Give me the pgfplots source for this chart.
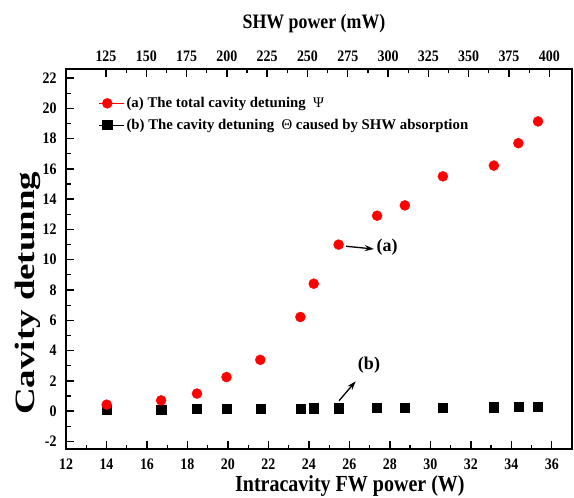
\documentclass[border=0pt]{standalone}
\usepackage{fontspec}
\setmainfont{Liberation Serif}
\newfontfamily\nf[FakeStretch=0.87]{Liberation Serif}
\newfontfamily\yf[FakeStretch=1.32]{Liberation Serif}
\usepackage{pgfplots}
\pgfplotsset{compat=1.18}
\usetikzlibrary{arrows.meta}
\begin{document}
\begin{tikzpicture}[font=\rmfamily\bfseries]
\begin{axis}[name=main, scale only axis, width=506pt, height=380pt,
  xmin=12, xmax=37, ymin=-2.5, ymax=22.6,
  xtick={12,14,...,36}, ytick={-2,0,...,22},
  minor x tick num=1, minor y tick num=1,
  xtick pos=left, ytick pos=left,
  tick align=inside,
  major tick length=8pt, minor tick length=4.5pt,
  axis line style={line width=1.6pt},
  major tick style={line width=1.4pt, black},
  minor tick style={line width=1.2pt, black},
  /pgf/number format/assume math mode=true,
  ticklabel style={font=\fontsize{16}{16}\selectfont\nf\bfseries},
  xticklabel style={yshift=-6pt},
  yticklabel style={xshift=-6pt},
  xlabel={Intracavity FW power (W)}, ylabel={Cavity detunng},
  xlabel style={at={(rel axis cs:0.561,0)}, anchor=base, yshift=-42pt, inner sep=0pt,
    font=\fontsize{23}{23}\selectfont\nf\bfseries},
  ylabel style={at={(rel axis cs:-0.05,0.41)}, anchor=south, inner sep=0pt,
    font=\fontsize{28}{28}\selectfont\yf\bfseries},
  reverse legend, legend cell align=left,
  legend style={draw=none, fill=none, at={(axis cs:13.45,21.0)}, anchor=north west,
    font=\fontsize{14.8}{14.8}\selectfont\rmfamily\bfseries, row sep=6pt},
  legend image code/.code={\draw[#1, only marks] plot coordinates {(0.3cm,0cm)}; \path (0,0) -- (0.9cm,0);},
]
\addplot[only marks, mark=square*, mark size=4.6pt, black] coordinates {
(14.01,0.10) (16.70,0.12) (18.47,0.14) (19.93,0.15) (21.60,0.17) (23.58,0.18) (24.24,0.19)
(25.47,0.20) (27.37,0.22) (28.74,0.23) (30.62,0.24) (33.14,0.26) (34.35,0.27) (35.32,0.28)};
\addlegendentry{(b) The cavity detuning \ {\mdseries Θ} caused by SHW absorption}
\addplot[only marks, mark=*, mark size=5pt, red, mark options={fill=red, draw=red}] coordinates {
(14.01,0.43) (16.70,0.71) (18.47,1.16) (19.93,2.25) (21.60,3.39) (23.58,6.22) (24.24,8.42)
(25.47,11.0) (27.37,12.91) (28.74,13.59) (30.62,15.51) (33.14,16.22) (34.35,17.7) (35.32,19.14)};
\addlegendentry{(a) The total cavity detuning \ {\mdseries Ψ}}
\draw[line width=1.3pt, -{Stealth[length=9pt,width=6pt]}] (axis cs:25.84,10.89) -- (axis cs:27.21,10.71);
\node[anchor=west, inner sep=0pt, font=\fontsize{18}{18}\selectfont\rmfamily\bfseries] at (axis cs:27.34,10.85) {(a)};
\draw[line width=1.3pt, -{Stealth[length=9pt,width=6pt]}] (axis cs:25.49,0.69) -- (axis cs:26.31,1.97);
\node[inner sep=0pt, font=\fontsize{18}{18}\selectfont\rmfamily\bfseries] at (axis cs:26.97,3.07) {(b)};
\end{axis}
\begin{axis}[scale only axis, width=506pt, height=380pt,
  xmin=100.2, xmax=414.1, ymin=0, ymax=1,
  axis x line*=top, axis y line=none,
  xtick={125,150,...,400}, minor x tick num=1,
  tick align=inside,
  major tick length=8pt, minor tick length=4.5pt,
  axis line style={line width=1.6pt},
  major tick style={line width=1.4pt, black},
  minor tick style={line width=1.2pt, black},
  /pgf/number format/assume math mode=true,
  ticklabel style={font=\fontsize{16}{16}\selectfont\nf\bfseries},
  xticklabel style={yshift=4pt},
  xlabel={SHW power (mW)},
  xlabel style={at={(rel axis cs:0.49,1)}, anchor=base, yshift=40pt, inner sep=0pt,
    font=\fontsize{20.5}{20.5}\selectfont\nf\bfseries},
]
\end{axis}
\pgfresetboundingbox
\path[use as bounding box] ([xshift=-66pt,yshift=-48pt]main.south west) rectangle ([xshift=2pt,yshift=69pt]main.north east);
\end{tikzpicture}
\end{document}
